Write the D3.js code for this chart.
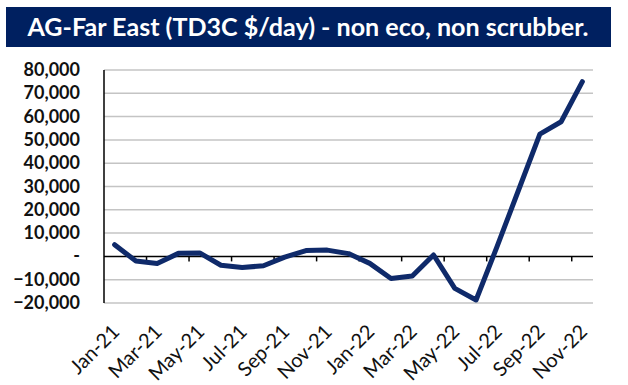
<!DOCTYPE html>
<html>
<head>
<meta charset="utf-8">
<script src="https://cdn.jsdelivr.net/npm/d3@7"></script>
<style>
  body { margin: 0; background: #fff; }
  svg { display: block; font-family: Lato, "Open Sans", sans-serif; }
</style>
</head>
<body>
<svg width="628" height="385"></svg>
<script>
// monthly TD3C earnings, non eco / non scrubber
var months = ["Jan-21","Feb-21","Mar-21","Apr-21","May-21","Jun-21","Jul-21","Aug-21","Sep-21","Oct-21","Nov-21","Dec-21",
  "Jan-22","Feb-22","Mar-22","Apr-22","May-22","Jun-22","Jul-22","Aug-22","Sep-22","Oct-22","Nov-22"];
var earnings = [5000,-2000,-3000,1300,1500,-3800,-4800,-4000,-300,2500,2700,1200,
  -3000,-9500,-8400,600,-13700,-18700,4500,28500,52500,57800,75000];
var yTicks = [-20000,-10000,0,10000,20000,30000,40000,50000,60000,70000,80000];
var title = "AG-Far East (TD3C $/day) - non eco, non scrubber.";

var svg = d3.select("svg");
var plotL = 104, plotR = 593, plotT = 70, plotB = 303;

// title bar
svg.append("rect")
  .attr("x", 6).attr("y", 7).attr("width", 605).attr("height", 40)
  .attr("fill", "#002060");
svg.append("text")
  .attr("x", 308).attr("y", 36)
  .attr("text-anchor", "middle")
  .attr("fill", "#fff")
  .attr("font-size", 24.5)
  .attr("font-weight", "bold")
  .attr("textLength", 561)
  .attr("lengthAdjust", "spacingAndGlyphs")
  .text(title);

var x = d3.scaleBand().domain(months).range([plotL, plotR]).padding(0);
var y = d3.scaleLinear().domain([-20000, 80000]).range([plotB, plotT]);

// gridlines
svg.append("g")
  .selectAll("line")
  .data(yTicks.filter(function (d) { return d !== 0; }))
  .enter().append("line")
  .attr("x1", plotL).attr("x2", plotR)
  .attr("y1", function (d) { return y(d); })
  .attr("y2", function (d) { return y(d); })
  .attr("stroke", "#c4c4c4")
  .attr("stroke-width", 1.5);

// y labels
var fmt = d3.format(",");
svg.append("g")
  .selectAll("text")
  .data(yTicks)
  .enter().append("text")
  .attr("x", 80)
  .attr("y", function (d) { return y(d) + 6; })
  .attr("text-anchor", "end")
  .attr("font-size", 18)
  .attr("font-weight", "bold")
  .attr("fill", "#111")
  .text(function (d) { return d === 0 ? "-" : fmt(d); });

// zero axis with tick marks between every second month
var xAxis = d3.axisBottom(x)
  .tickValues(months.filter(function (d, i) { return i % 2 === 1; }))
  .tickSize(5)
  .tickFormat("")
  .offset(0);
var ax = svg.append("g")
  .attr("transform", "translate(0," + y(0) + ")")
  .call(xAxis);
ax.select(".domain").attr("d", "M" + plotL + ",0H" + plotR).attr("stroke", "#000").attr("stroke-width", 1.5);
ax.selectAll(".tick line")
  .attr("transform", "translate(" + (x.bandwidth() / 2) + ",0)")
  .attr("stroke", "#000").attr("stroke-width", 1.5);

// y axis line
svg.append("line")
  .attr("x1", plotL).attr("x2", plotL)
  .attr("y1", plotT).attr("y2", plotB)
  .attr("stroke", "#000").attr("stroke-width", 1.5);

// x labels
svg.append("g")
  .selectAll("text")
  .data(months.filter(function (d, i) { return i % 2 === 0; }))
  .enter().append("text")
  .attr("transform", function (d) {
    return "translate(" + (x(d) + x.bandwidth() / 2 + 6) + "," + 333 + ") rotate(-45)";
  })
  .attr("text-anchor", "end")
  .attr("font-size", 20)
  .attr("fill", "#111")
  .text(function (d) { return d; });

// line
var line = d3.line()
  .x(function (d, i) { return x(months[i]) + x.bandwidth() / 2; })
  .y(function (d) { return y(d); });
svg.append("path")
  .datum(earnings)
  .attr("d", line)
  .attr("fill", "none")
  .attr("stroke", "#0f2a6a")
  .attr("stroke-width", 5)
  .attr("stroke-linejoin", "round")
  .attr("stroke-linecap", "round");
</script>
</body>
</html>
